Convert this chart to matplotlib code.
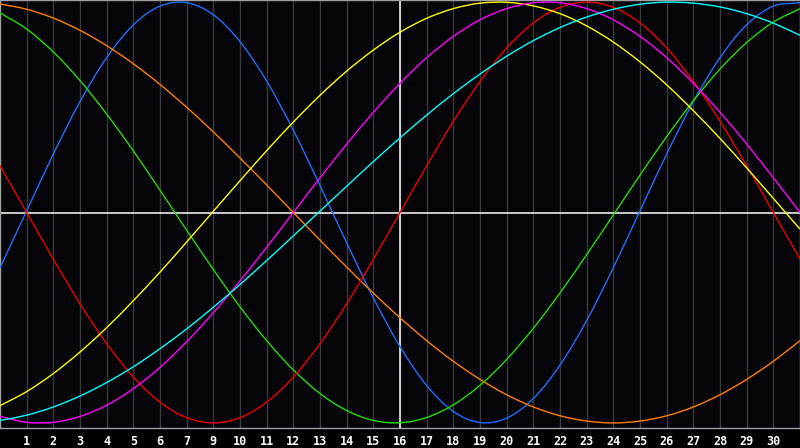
import matplotlib
matplotlib.use("Agg")
import matplotlib.pyplot as plt
from matplotlib.path import Path
from matplotlib.patches import PathPatch

# day positions across the chart and the labels under the grid lines
days = list(range(31))
tick_pos = list(range(1, 30))
tick_labels = ['1', '2', '3', '4', '5', '6', '7', '9', '10', '11', '12', '13', '14', '15',
               '16', '17', '18', '19', '20', '21', '22', '23', '24', '25', '26', '27', '28',
               '29', '30']

# cycle values read at each day (-1 .. 1)
blue = [-0.262, 0.008, 0.278, 0.527, 0.736, 0.892, 0.981, 0.997, 0.940, 0.812, 0.625,
        0.391, 0.128, -0.144, -0.406, -0.637, -0.822, -0.945, -0.998, -0.977, -0.884,
        -0.725, -0.513, -0.262, 0.008, 0.278, 0.527, 0.736, 0.892, 0.981, 0.997]
red = [0.222, 0.0, -0.222, -0.434, -0.623, -0.782, -0.901, -0.975, -1.0, -0.975, -0.901,
       -0.782, -0.623, -0.434, -0.222, 0.0, 0.222, 0.434, 0.623, 0.782, 0.901, 0.975,
       1.0, 0.975, 0.901, 0.782, 0.623, 0.434, 0.222, 0.0, -0.222]
green = [0.949, 0.872, 0.763, 0.627, 0.468, 0.293, 0.106, -0.084, -0.271, -0.448, -0.609,
         -0.748, -0.860, -0.941, -0.988, -0.999, -0.974, -0.914, -0.821, -0.698, -0.550,
         -0.382, -0.200, -0.011, 0.178, 0.361, 0.531, 0.682, 0.808, 0.905, 0.969]
yellow = [-0.918, -0.851, -0.765, -0.663, -0.547, -0.419, -0.283, -0.140, 0.006, 0.151,
          0.294, 0.430, 0.557, 0.672, 0.772, 0.857, 0.923, 0.969, 0.995, 0.999, 0.982,
          0.945, 0.887, 0.810, 0.716, 0.607, 0.484, 0.352, 0.212, 0.067, -0.079]
magenta = [-0.969, -0.997, -0.997, -0.969, -0.916, -0.837, -0.736, -0.614, -0.476, -0.325,
           -0.165, 0.0, 0.165, 0.325, 0.476, 0.614, 0.736, 0.837, 0.916, 0.969, 0.997,
           0.997, 0.969, 0.916, 0.837, 0.736, 0.614, 0.476, 0.325, 0.165, 0.0]
orange = [0.991, 0.966, 0.924, 0.866, 0.793, 0.707, 0.609, 0.500, 0.383, 0.259, 0.131,
          0.0, -0.131, -0.259, -0.383, -0.500, -0.609, -0.707, -0.793, -0.866, -0.924,
          -0.966, -0.991, -1.0, -0.991, -0.966, -0.924, -0.866, -0.793, -0.707, -0.609]
cyan = [-0.988, -0.963, -0.924, -0.872, -0.808, -0.733, -0.647, -0.553, -0.450, -0.342,
        -0.228, -0.111, 0.007, 0.125, 0.242, 0.355, 0.463, 0.565, 0.658, 0.743, 0.817,
        0.879, 0.929, 0.966, 0.990, 1.0, 0.995, 0.977, 0.945, 0.900, 0.842]


def smooth_line(ax, xs, ys, color):
    # draw the points as one smooth bezier path (catmull-rom handles)
    pts = list(zip(xs, ys))
    ext = [(2 * pts[0][0] - pts[1][0], 2 * pts[0][1] - pts[1][1])] + pts + \
          [(2 * pts[-1][0] - pts[-2][0], 2 * pts[-1][1] - pts[-2][1])]
    verts = [pts[0]]
    codes = [Path.MOVETO]
    for i in range(1, len(ext) - 2):
        p0, p1, p2, p3 = ext[i - 1], ext[i], ext[i + 1], ext[i + 2]
        c1 = (p1[0] + (p2[0] - p0[0]) / 6, p1[1] + (p2[1] - p0[1]) / 6)
        c2 = (p2[0] - (p3[0] - p1[0]) / 6, p2[1] - (p3[1] - p1[1]) / 6)
        verts += [c1, c2, p2]
        codes += [Path.CURVE4] * 3
    ax.add_patch(PathPatch(Path(verts, codes), fill=False, edgecolor=color, lw=1, zorder=3))


fig = plt.figure(figsize=(8, 4.48), dpi=100, facecolor='#000000')
ax = fig.add_axes([0, 20 / 448, 1, 428 / 448])
ax.set_facecolor('#050408')

for p in tick_pos:
    ax.axvline(p, color='#3a3a3a', lw=1, zorder=1)
ax.axvline(15, color='white', lw=1.1, zorder=2)
ax.axhline(0, color='white', lw=1.1, zorder=2)

smooth_line(ax, days, blue, '#1e6eff')
smooth_line(ax, days, orange, '#ff7f00')
smooth_line(ax, days, green, '#22dd00')
smooth_line(ax, days, red, '#ee0000')
smooth_line(ax, days, yellow, '#ffff00')
smooth_line(ax, days, magenta, '#ff00ff')
smooth_line(ax, days, cyan, '#00ffff')

ax.set_xlim(0, 30)
ax.set_ylim(-1.024, 1.01)
ax.set_xticks(tick_pos)
ax.set_xticklabels(tick_labels, family='DejaVu Sans Mono', fontweight='bold',
                   fontsize=8.5, color='white')
ax.set_yticks([])
ax.tick_params(axis='x', length=0, pad=5)
for s in ax.spines.values():
    s.set_color('#a0a0a0')
    s.set_linewidth(1)

fig.savefig('out.png', dpi=100, facecolor=fig.get_facecolor())
